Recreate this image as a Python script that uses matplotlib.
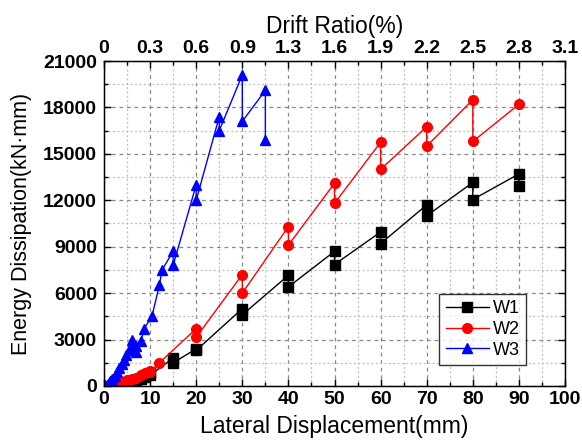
import matplotlib
matplotlib.use("Agg")
import matplotlib.pyplot as plt
from matplotlib.ticker import MultipleLocator

plt.rcParams['font.family'] = ['Liberation Sans', 'DejaVu Sans']

# ---- data ----
w1_x = [2, 3, 4, 5, 6, 7, 8, 9, 10, 10, 15, 15, 20, 20, 30, 30, 40, 40, 50, 50,
        60, 60, 70, 70, 80, 80, 90, 90]
w1_y = [20, 50, 90, 150, 250, 330, 450, 550, 850, 700, 1800, 1500, 2400, 2300,
        5000, 4600, 7150, 6400, 8700, 7850, 9950, 9200, 11700, 11000, 13150,
        12050, 13700, 12900]

w2_x = [2, 3, 4, 5, 6, 7, 8, 9, 10, 10, 12, 20, 20, 30, 30, 40, 40, 50, 50,
        60, 60, 70, 70, 80, 80, 90]
w2_y = [30, 100, 250, 380, 450, 500, 700, 850, 1000, 900, 1500, 3700, 3150,
        7200, 6000, 10300, 9100, 13100, 11800, 15750, 14000, 16750, 15500,
        18500, 15800, 18200]

w3_x = [0.3, 0.8, 1.3, 1.8, 2.3, 2.8, 3.3, 3.8, 4.3, 4.8, 5.4, 6, 6, 7, 7, 8,
        8.7, 10.4, 12, 12.6, 15, 15, 20, 20, 25, 25, 30, 30, 35, 35]
w3_y = [50, 150, 300, 450, 650, 900, 1150, 1400, 1700, 2000, 2300, 3000, 2300,
        2600, 2200, 2900, 3700, 4500, 6500, 7500, 8700, 7800, 13000, 12000,
        17400, 16500, 20100, 17100, 19100, 15900]

x_ticks = [0, 10, 20, 30, 40, 50, 60, 70, 80, 90, 100]
y_ticks = [0, 3000, 6000, 9000, 12000, 15000, 18000, 21000]
drift_labels = ['0', '0.3', '0.6', '0.9', '1.3', '1.6', '1.9', '2.2', '2.5',
                '2.8', '3.1']

fig = plt.figure(figsize=(5.82, 4.43), dpi=100)
ax = fig.add_axes([0.1787, 0.1287, 0.7921, 0.7336])

ax.plot(w1_x, w1_y, color='black', lw=1.0, marker='s', ms=6.5, label='W1')
ax.plot(w2_x, w2_y, color='red', lw=1.0, marker='o', ms=7, label='W2')
ax.plot(w3_x, w3_y, color='blue', lw=1.0, marker='^', ms=7.5, label='W3')

ax.set_xlim(0, 100)
ax.set_ylim(0, 21000)
ax.set_xticks(x_ticks)
ax.set_yticks(y_ticks)
ax.xaxis.set_minor_locator(MultipleLocator(5))
ax.yaxis.set_minor_locator(MultipleLocator(1500))

ax.grid(which='major', color='#888888', linestyle=(0, (3, 3)), lw=0.9)
ax.grid(which='minor', color='#bbbbbb', linestyle=(0, (1.5, 2)), lw=0.9)
ax.set_axisbelow(True)

ax.tick_params(which='both', direction='in', right=True, top=False,
               labelsize=14, width=1.0)
ax.tick_params(axis='y', pad=5)
ax.tick_params(which='major', length=5)
ax.tick_params(which='minor', length=3)
for lab in ax.get_xticklabels() + ax.get_yticklabels():
    lab.set_fontweight('bold')

for sp in ax.spines.values():
    sp.set_linewidth(1.0)

ax.set_xlabel('Lateral Displacement(mm)', fontsize=16.5, labelpad=5)
ax.set_ylabel('Energy Dissipation(kN\u00b7mm)', fontsize=15.5, labelpad=8)

top = ax.twiny()
top.set_xlim(ax.get_xlim())
top.set_xticks(x_ticks)
top.set_xticklabels(drift_labels, fontweight='bold', fontsize=14)
top.xaxis.set_minor_locator(MultipleLocator(5))
top.tick_params(which='both', direction='in', width=1.0, pad=3)
top.tick_params(which='major', length=5)
top.tick_params(which='minor', length=3)
top.set_xlabel('Drift Ratio(%)', fontsize=16.5, labelpad=5)

leg = ax.legend(loc='lower right', bbox_to_anchor=(0.915, 0.065),
                fontsize=13, frameon=True, fancybox=False, edgecolor='black',
                handlelength=2.4, borderpad=0.35, labelspacing=0.2,
                handletextpad=0.2, borderaxespad=0)
leg.get_frame().set_linewidth(1.0)

fig.savefig('out.png', dpi=100)
